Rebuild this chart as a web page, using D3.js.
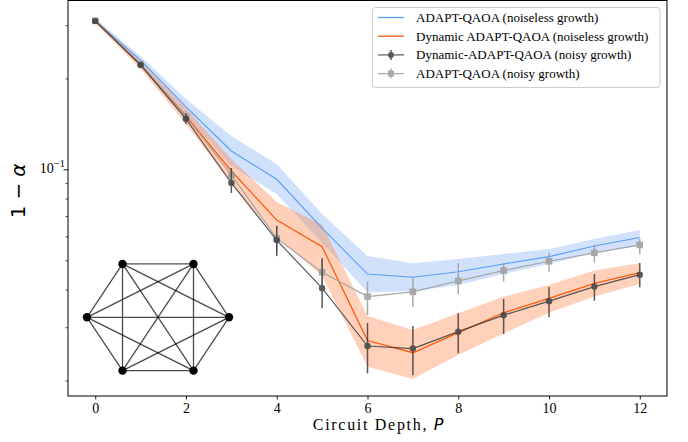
<!DOCTYPE html>
<html>
<head>
<meta charset="utf-8">
<script src="https://cdn.jsdelivr.net/npm/d3@7/dist/d3.min.js"></script>
<style>
  html, body { margin: 0; padding: 0; background: #fff; }
  svg { display: block; }
</style>
</head>
<body>
<svg id="chart" width="688" height="442"></svg>
<script>
// Circuit depths
const depths = [0, 1, 2, 3, 4, 5, 6, 7, 8, 9, 10, 11, 12];

// ADAPT-QAOA, noiseless growth: mean and shaded band
const adaptNoiseless      = [0.310, 0.230, 0.161, 0.115, 0.0927, 0.0639, 0.0450, 0.0439, 0.0458, 0.0486, 0.0514, 0.0557, 0.0595];
const adaptNoiselessHi    = [0.315, 0.237, 0.171, 0.129, 0.1041, 0.0711, 0.0516, 0.0489, 0.0505, 0.0524, 0.0545, 0.0588, 0.0630];
const adaptNoiselessLo    = [0.305, 0.223, 0.151, 0.1025, 0.0828, 0.0570, 0.0392, 0.0395, 0.0414, 0.0450, 0.0486, 0.0528, 0.0557];

// Dynamic ADAPT-QAOA, noiseless growth: mean and shaded band
const dynNoiseless        = [0.310, 0.2215, 0.1502, 0.0987, 0.0679, 0.0554, 0.0271, 0.0247, 0.0288, 0.0335, 0.0374, 0.0419, 0.0455];
const dynNoiselessHi      = [0.315, 0.2284, 0.1594, 0.1082, 0.0780, 0.0655, 0.0327, 0.0294, 0.0334, 0.0379, 0.0414, 0.0462, 0.0490];
const dynNoiselessLo      = [0.305, 0.2149, 0.1413, 0.0894, 0.0597, 0.0443, 0.0222, 0.0202, 0.0243, 0.0286, 0.0335, 0.0379, 0.0417];

// Dynamic-ADAPT-QAOA, noisy growth: mean with error bars
const dynNoisy            = [0.310, 0.2215, 0.1468, 0.0901, 0.0583, 0.0404, 0.0260, 0.0255, 0.0290, 0.0329, 0.0366, 0.0409, 0.0448];
const dynNoisyHi          = [0.313, 0.2260, 0.1530, 0.1010, 0.0649, 0.0508, 0.0310, 0.0303, 0.0334, 0.0372, 0.0408, 0.0450, 0.0490];
const dynNoisyLo          = [0.307, 0.2170, 0.1410, 0.0835, 0.0516, 0.0347, 0.0211, 0.0208, 0.0246, 0.0285, 0.0324, 0.0367, 0.0407];

// ADAPT-QAOA, noisy growth: mean with error bars
const adaptNoisy          = [0.310, 0.2232, 0.1493, 0.0958, 0.0591, 0.0456, 0.0379, 0.0393, 0.0427, 0.0462, 0.0496, 0.0529, 0.0562];
const adaptNoisyHi        = [0.313, 0.2280, 0.1560, 0.1010, 0.0649, 0.0501, 0.0425, 0.0437, 0.0489, 0.0490, 0.0529, 0.0562, 0.0588];
const adaptNoisyLo        = [0.307, 0.2190, 0.1440, 0.0901, 0.0530, 0.0414, 0.0329, 0.0350, 0.0386, 0.0425, 0.0458, 0.0491, 0.0524];

const xTicks = [0, 2, 4, 6, 8, 10, 12];
const yMajorTicks = [0.1];
const yMinorTicks = [0.02, 0.03, 0.04, 0.05, 0.06, 0.07, 0.08, 0.09, 0.2, 0.3];

const legendLabels = [
  "ADAPT-QAOA (noiseless growth)",
  "Dynamic ADAPT-QAOA (noiseless growth)",
  "Dynamic-ADAPT-QAOA (noisy growth)",
  "ADAPT-QAOA (noisy growth)"
];

// Inset graph: complete graph on six nodes in a circular layout
const graphNodeAngles = [0, 60, 120, 180, 240, 300];

const COLORS = {
  blue: "#5b9cf6", blueFill: "#6fa3f7",
  orange: "#ff5a0a", orangeFill: "#ff7f3f",
  dark: "#3d3d3d", light: "#a0a0a0"
};

const SERIF = "Liberation Serif";
const SANS = "DejaVu Sans";

const svg = d3.select("#chart");
const plot = { left: 68, right: 667, top: 0.5, bottom: 396 };

const x = d3.scaleLinear().domain([-0.6, 12.6]).range([plot.left, plot.right]);
const y = d3.scaleLog().domain([0.01776, 0.3622]).range([plot.bottom, plot.top]);

svg.append("clipPath").attr("id", "plotclip")
  .append("rect").attr("x", plot.left).attr("y", plot.top)
  .attr("width", plot.right - plot.left).attr("height", plot.bottom - plot.top);

const g = svg.append("g").attr("clip-path", "url(#plotclip)");

// Shaded bands
const area = (hi, lo) => d3.area()
  .x((d, i) => x(depths[i]))
  .y0((d, i) => y(lo[i]))
  .y1((d, i) => y(hi[i]))(depths);

g.append("path").attr("d", area(adaptNoiselessHi, adaptNoiselessLo))
  .attr("fill", COLORS.blueFill).attr("fill-opacity", 0.32);
g.append("path").attr("d", area(dynNoiselessHi, dynNoiselessLo))
  .attr("fill", COLORS.orangeFill).attr("fill-opacity", 0.36);

const line = vals => d3.line().x((d, i) => x(depths[i])).y((d, i) => y(vals[i]))(depths);

g.append("path").attr("d", line(adaptNoiseless)).attr("fill", "none")
  .attr("stroke", COLORS.blue).attr("stroke-width", 1.1);
g.append("path").attr("d", line(dynNoiseless)).attr("fill", "none")
  .attr("stroke", COLORS.orange).attr("stroke-width", 1.3);

// Noisy series with error bars
function errorSeries(vals, hi, lo, color, marker, opacity) {
  const s = g.append("g").attr("opacity", opacity);
  s.append("path").attr("d", line(vals)).attr("fill", "none")
    .attr("stroke", color).attr("stroke-width", 1.2);
  s.selectAll("line.err").data(depths).join("line")
    .attr("class", "err")
    .attr("x1", d => x(d)).attr("x2", d => x(d))
    .attr("y1", (d, i) => y(hi[i])).attr("y2", (d, i) => y(lo[i]))
    .attr("stroke", color).attr("stroke-width", 1.5);
  if (marker === "circle") {
    s.selectAll("circle").data(depths).join("circle")
      .attr("cx", d => x(d)).attr("cy", (d, i) => y(vals[i])).attr("r", 3.2)
      .attr("fill", color);
  } else {
    s.selectAll("rect").data(depths).join("rect")
      .attr("x", d => x(d) - 3.3).attr("y", (d, i) => y(vals[i]) - 3.3)
      .attr("width", 6.6).attr("height", 6.6).attr("fill", color);
  }
}
errorSeries(adaptNoisy, adaptNoisyHi, adaptNoisyLo, COLORS.light, "square", 0.9);
errorSeries(dynNoisy, dynNoisyHi, dynNoisyLo, COLORS.dark, "circle", 0.85);

// Axes
const xAxis = d3.axisBottom(x).tickValues(xTicks).tickSize(3.5).tickSizeOuter(0).tickPadding(3.5);
const xg = svg.append("g").attr("transform", `translate(0,${plot.bottom})`).call(xAxis)
  .attr("font-family", SERIF).attr("font-size", 14);
xg.select(".domain").remove();
xg.selectAll("text").style("font-family", SERIF).style("font-size", "14px").attr("fill", "#000");
xg.selectAll("line").attr("stroke", "#000").attr("stroke-width", 0.9);

const yMajor = d3.axisLeft(y).tickValues(yMajorTicks).tickSize(4.5).tickSizeOuter(0).tickFormat(() => "");
const yg = svg.append("g").attr("transform", `translate(${plot.left},0)`).call(yMajor);
yg.select(".domain").remove();
yg.selectAll("line").attr("stroke", "#000").attr("stroke-width", 0.9);
const yMinor = d3.axisLeft(y).tickValues(yMinorTicks).tickSize(2.5).tickSizeOuter(0).tickFormat(() => "");
const ymg = svg.append("g").attr("transform", `translate(${plot.left},0)`).call(yMinor);
ymg.select(".domain").remove();
ymg.selectAll("line").attr("stroke", "#000").attr("stroke-width", 0.7);

// Power-of-ten label on the log axis
yMajorTicks.forEach(v => {
  const t = svg.append("text").attr("x", plot.left - 3).attr("y", y(v) + 4)
    .attr("text-anchor", "end").style("font-family", SERIF).style("font-size", "14px").attr("fill", "#000");
  t.append("tspan").text("10");
  t.append("tspan").attr("dy", -6).style("font-size", "10.5px").text("\u22121");
});

// Frame
svg.append("rect").attr("x", plot.left).attr("y", plot.top)
  .attr("width", plot.right - plot.left).attr("height", plot.bottom - plot.top)
  .attr("fill", "none").attr("stroke", "#000").attr("stroke-width", 1);

// Axis titles
const xl = svg.append("text").attr("x", 379).attr("y", 430).attr("text-anchor", "middle")
  .style("font-family", SERIF).style("font-size", "16px").style("letter-spacing", "1.7px").attr("fill", "#000");
xl.append("tspan").text("Circuit Depth, ");
xl.append("tspan").style("font-family", SANS).style("font-style", "italic").text("P");

const yl = svg.append("text").attr("transform", "translate(25,191) rotate(-90)")
  .attr("text-anchor", "middle").style("font-family", SANS).style("font-size", "20px").attr("fill", "#000");
yl.append("tspan").text("1");
yl.append("tspan").attr("dx", 6).text("\u2212");
yl.append("tspan").attr("dx", 6).style("font-style", "italic").text("\u03b1");

// Legend
const lg = svg.append("g");
lg.append("rect").attr("x", 372.5).attr("y", 7.5).attr("width", 287.5).attr("height", 80)
  .attr("rx", 3).attr("fill", "#fff").attr("fill-opacity", 0.8)
  .attr("stroke", "#cccccc").attr("stroke-width", 1);
const legendStyles = [
  { color: COLORS.blue, marker: null, op: 1 },
  { color: COLORS.orange, marker: null, op: 1 },
  { color: COLORS.dark, marker: "circle", op: 0.85 },
  { color: COLORS.light, marker: "square", op: 0.9 }
];
legendLabels.forEach((label, i) => {
  const cy = 17.5 + i * 18.7;
  const st = legendStyles[i];
  const h = lg.append("g").attr("opacity", st.op);
  h.append("line").attr("x1", 378).attr("x2", 404).attr("y1", cy).attr("y2", cy)
    .attr("stroke", st.color).attr("stroke-width", st.marker ? 1.2 : 1.3);
  if (st.marker) {
    h.append("line").attr("x1", 391).attr("x2", 391).attr("y1", cy - 5).attr("y2", cy + 5)
      .attr("stroke", st.color).attr("stroke-width", 1.5);
    if (st.marker === "circle") {
      h.append("circle").attr("cx", 391).attr("cy", cy).attr("r", 3).attr("fill", st.color);
    } else {
      h.append("rect").attr("x", 388).attr("y", cy - 3).attr("width", 6).attr("height", 6).attr("fill", st.color);
    }
  }
  lg.append("text").attr("x", 416).attr("y", cy + 4.5).style("font-family", SERIF)
    .style("font-size", "13px").attr("fill", "#000").text(label);
});

// Inset: K6 in a circular layout
const inset = { cx: 158, cy: 317.3, rx: 71, ry: 61.6 };
const gx = d3.scaleLinear().domain([-1, 1]).range([inset.cx - inset.rx, inset.cx + inset.rx]);
const gy = d3.scaleLinear().domain([-1, 1]).range([inset.cy + inset.ry, inset.cy - inset.ry]);
const nodes = graphNodeAngles.map(a => ({ px: gx(Math.cos(a * Math.PI / 180)), py: gy(Math.sin(a * Math.PI / 180)) }));
const edges = [];
for (let i = 0; i < nodes.length; i++) for (let j = i + 1; j < nodes.length; j++) edges.push([nodes[i], nodes[j]]);
const ig = svg.append("g");
ig.selectAll("line").data(edges).join("line")
  .attr("x1", d => d[0].px).attr("y1", d => d[0].py)
  .attr("x2", d => d[1].px).attr("y2", d => d[1].py)
  .attr("stroke", "#000").attr("stroke-opacity", 0.7).attr("stroke-width", 1.3);
ig.selectAll("circle").data(nodes).join("circle")
  .attr("cx", d => d.px).attr("cy", d => d.py).attr("r", 4.2).attr("fill", "#000");
</script>
</body>
</html>
